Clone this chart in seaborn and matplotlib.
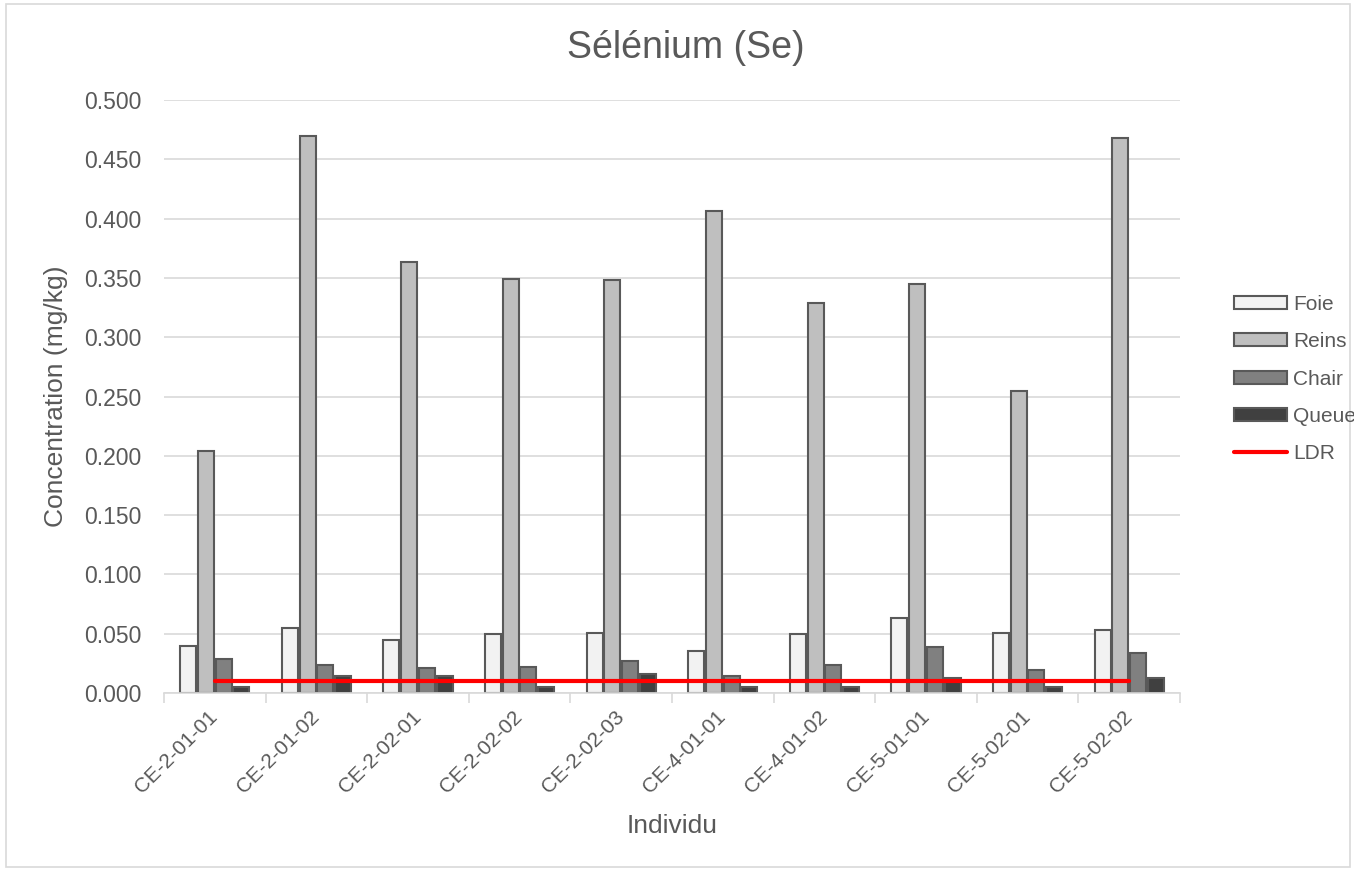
import matplotlib
matplotlib.use("Agg")
import matplotlib.pyplot as plt
import seaborn as sns
import pandas as pd
import numpy as np
from matplotlib.patches import Rectangle, Patch
from matplotlib.lines import Line2D

individus = ["CE-2-01-01", "CE-2-01-02", "CE-2-02-01", "CE-2-02-02", "CE-2-02-03",
             "CE-4-01-01", "CE-4-01-02", "CE-5-01-01", "CE-5-02-01", "CE-5-02-02"]
foie = [0.040, 0.055, 0.045, 0.050, 0.051, 0.035, 0.050, 0.063, 0.051, 0.053]
reins = [0.204, 0.470, 0.363, 0.349, 0.348, 0.406, 0.329, 0.345, 0.255, 0.468]
chair = [0.029, 0.024, 0.021, 0.022, 0.027, 0.014, 0.024, 0.039, 0.019, 0.034]
queue = [0.005, 0.014, 0.014, 0.005, 0.016, 0.005, 0.005, 0.013, 0.005, 0.013]
ldr = [0.010] * 10

tissus = ["Foie", "Reins", "Chair", "Queue"]
couleurs = ["#F2F2F2", "#BFBFBF", "#808080", "#404040"]

df = pd.DataFrame({
    "Individu": individus * 4,
    "Tissu": sum([[t] * 10 for t in tissus], []),
    "Concentration": foie + reins + chair + queue,
})

sns.set_theme(style="white")
plt.rcParams["font.family"] = ["Liberation Sans", "DejaVu Sans"]
txt = "#595959"

fig = plt.figure(figsize=(13.54, 8.71), dpi=100)
W, H = 1354, 871
ax = fig.add_axes([164 / W, 1 - 693 / H, (1180 - 164) / W, (693 - 100) / H])

sns.barplot(data=df, x="Individu", y="Concentration", hue="Tissu",
            hue_order=tissus, palette=couleurs, width=0.7, gap=0.1,
            edgecolor="#595959", linewidth=1.5, ax=ax, legend=False,
            saturation=1)
sns.lineplot(x=np.arange(len(individus)), y=ldr, color="#FF0000",
             linewidth=3, ax=ax, legend=False)

ax.set_xlim(-0.5, len(individus) - 0.5)
ax.set_ylim(0, 0.5)
ax.set_yticks(np.arange(0, 0.501, 0.05))
ax.set_yticklabels([f"{v:.3f}" for v in np.arange(0, 0.501, 0.05)])
ax.yaxis.grid(True, color="#D9D9D9", linewidth=1.2)
ax.set_axisbelow(True)
for s in ["top", "right", "left"]:
    ax.spines[s].set_visible(False)
ax.spines["bottom"].set_color("#D9D9D9")
ax.spines["bottom"].set_linewidth(1.2)

ax.set_xticks(np.arange(len(individus)))
ax.set_xticklabels(individus, rotation=45, ha="right", va="center",
                   rotation_mode="anchor", fontsize=15, color=txt)
ax.tick_params(axis="x", length=0, pad=15)
ax.set_xticks(np.arange(-0.5, len(individus), 1), minor=True)
ax.tick_params(axis="x", which="minor", length=7, color="#D9D9D9", width=1.2,
               bottom=True)
ax.tick_params(axis="y", length=0, labelsize=16.5, labelcolor=txt, pad=16.5)

ax.set_xlabel("Individu", fontsize=19, color=txt, labelpad=12)
ax.set_ylabel("Concentration (mg/kg)", fontsize=19, color=txt, labelpad=11)
fig.text(686 / W, 1 - 48 / H, "Sélénium (Se)", ha="center", va="center",
         fontsize=27, color=txt)

handles = [Patch(facecolor=c, edgecolor="#595959", linewidth=1.5) for c in couleurs]
handles.append(Line2D([0], [0], color="#FF0000", linewidth=3))
leg = fig.legend(handles, tissus + ["LDR"], loc="center left",
                 bbox_to_anchor=(1234 / W, 1 - 379 / H), frameon=False,
                 fontsize=15, handlelength=2.55, handleheight=0.58,
                 labelspacing=0.875, handletextpad=0.29, borderaxespad=0,
                 borderpad=0)
for t in leg.get_texts():
    t.set_color(txt)

fig.patches.append(Rectangle((6 / W, 4 / H), (1350 - 6) / W, (867 - 4) / H,
                             transform=fig.transFigure, fill=False,
                             edgecolor="#D9D9D9", linewidth=1.2))

fig.savefig("out.png", dpi=100)
